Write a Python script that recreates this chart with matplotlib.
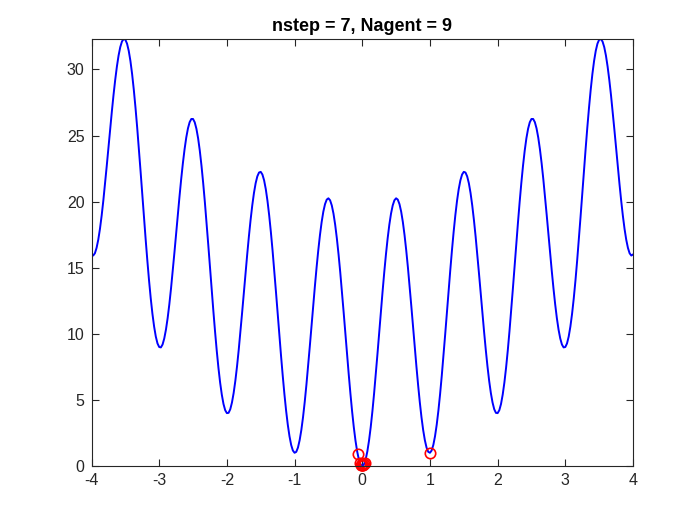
import matplotlib
matplotlib.use("Agg")
from matplotlib import pyplot as plt
import numpy as np

plt.rcParams["font.family"] = ["Liberation Sans", "DejaVu Sans"]
plt.rcParams["axes.unicode_minus"] = False

# curve samples, x from -4 to 4 in steps of 0.025
x_vals = np.linspace(-4, 4, 321)
y_vals = [
    # x = -4 ... -0.025
    16.00, 15.92, 16.09, 16.50, 17.12, 17.94, 18.94, 20.09, 21.35, 22.69,
    24.06, 25.44, 26.78, 28.05, 29.20, 30.21, 31.05, 31.69, 32.11, 32.30,
    32.25, 31.95, 31.41, 30.64, 29.65, 28.46, 27.10, 25.60, 23.98, 22.29,
    20.56, 18.84, 17.15, 15.54, 14.04, 12.69, 11.52, 10.55, 9.79, 9.27,
    9.00, 8.97, 9.19, 9.65, 10.32, 11.19, 12.24, 13.44, 14.75, 16.14,
    17.56, 18.99, 20.38, 21.70, 22.90, 23.96, 24.85, 25.54, 26.01, 26.25,
    26.25, 26.00, 25.51, 24.79, 23.85, 22.71, 21.40, 19.95, 18.38, 16.74,
    15.06, 13.39, 11.75, 10.19, 8.74, 7.44, 6.32, 5.40, 4.69, 4.22,
    4.00, 4.02, 4.29, 4.80, 5.52, 6.44, 7.54, 8.79, 10.15, 11.59,
    13.06, 14.54, 15.98, 17.35, 18.60, 19.71, 20.65, 21.39, 21.91, 22.20,
    22.25, 22.05, 21.61, 20.94, 20.05, 18.96, 17.70, 16.30, 14.78, 13.19,
    11.56, 9.94, 8.35, 6.84, 5.44, 4.19, 3.12, 2.25, 1.59, 1.17,
    1.00, 1.07, 1.39, 1.95, 2.72, 3.69, 4.84, 6.14, 7.55, 9.04,
    10.56, 12.09, 13.58, 15.00, 16.30, 17.46, 18.45, 19.24, 19.81, 20.15,
    20.25, 20.10, 19.71, 19.09, 18.25, 17.21, 16.00, 14.65, 13.18, 11.64,
    10.06, 8.49, 6.95, 5.49, 4.14, 2.94, 1.92, 1.10, 0.49, 0.12,
    # x = 0
    0.00,
    # x = 0.025 ... 4
    0.12, 0.49, 1.10, 1.92, 2.94, 4.14, 5.49, 6.95, 8.49, 10.06,
    11.64, 13.18, 14.65, 16.00, 17.21, 18.25, 19.09, 19.71, 20.10, 20.25,
    20.15, 19.81, 19.24, 18.45, 17.46, 16.30, 15.00, 13.58, 12.09, 10.56,
    9.04, 7.55, 6.14, 4.84, 3.69, 2.72, 1.95, 1.39, 1.07, 1.00,
    1.17, 1.59, 2.25, 3.12, 4.19, 5.44, 6.84, 8.35, 9.94, 11.56,
    13.19, 14.78, 16.30, 17.70, 18.96, 20.05, 20.94, 21.61, 22.05, 22.25,
    22.20, 21.91, 21.39, 20.65, 19.71, 18.60, 17.35, 15.98, 14.54, 13.06,
    11.59, 10.15, 8.79, 7.54, 6.44, 5.52, 4.80, 4.29, 4.02, 4.00,
    4.22, 4.69, 5.40, 6.32, 7.44, 8.74, 10.19, 11.75, 13.39, 15.06,
    16.74, 18.38, 19.95, 21.40, 22.71, 23.85, 24.79, 25.51, 26.00, 26.25,
    26.25, 26.01, 25.54, 24.85, 23.96, 22.90, 21.70, 20.38, 18.99, 17.56,
    16.14, 14.75, 13.44, 12.24, 11.19, 10.32, 9.65, 9.19, 8.97, 9.00,
    9.27, 9.79, 10.55, 11.52, 12.69, 14.04, 15.54, 17.15, 18.84, 20.56,
    22.29, 23.98, 25.60, 27.10, 28.46, 29.65, 30.64, 31.41, 31.95, 32.25,
    32.30, 32.11, 31.69, 31.05, 30.21, 29.20, 28.05, 26.78, 25.44, 24.06,
    22.69, 21.35, 20.09, 18.94, 17.94, 17.12, 16.50, 16.09, 15.92, 16.00,
]

# agent positions
agent_x = [-0.068, 0.997, -0.03, -0.015, 0.0, 0.01, 0.025, 0.035, -0.005]
agent_y = [0.90, 1.00, 0.20, 0.10, 0.05, 0.08, 0.15, 0.25, 0.06]

title = "nstep = 7, Nagent = 9"

fig = plt.figure(figsize=(7, 5.25), dpi=100)
ax = fig.add_axes([91.5 / 700, 1 - 466 / 525, (633 - 91.5) / 700, (466 - 39) / 525])
ax.plot(x_vals, y_vals, color=(0, 0, 1), lw=1.4)
ax.plot(agent_x, agent_y, "o", mfc="none", mec="red", ms=7.5, mew=1.2, clip_on=False)

ax.set_xlim(-4, 4)
ax.set_ylim(0, max(y_vals))
ax.set_xticks(np.arange(-4, 5, 1))
ax.set_yticks(np.arange(0, 31, 5))
ax.tick_params(direction="in", length=5, width=0.8, labelsize=11.5, colors="#262626",
               top=True, right=True, pad=5)
for s in ax.spines.values():
    s.set_linewidth(0.8)
    s.set_color("#262626")
ax.set_title(title, fontsize=13, fontweight="bold", pad=6)

plt.savefig("out.png")
